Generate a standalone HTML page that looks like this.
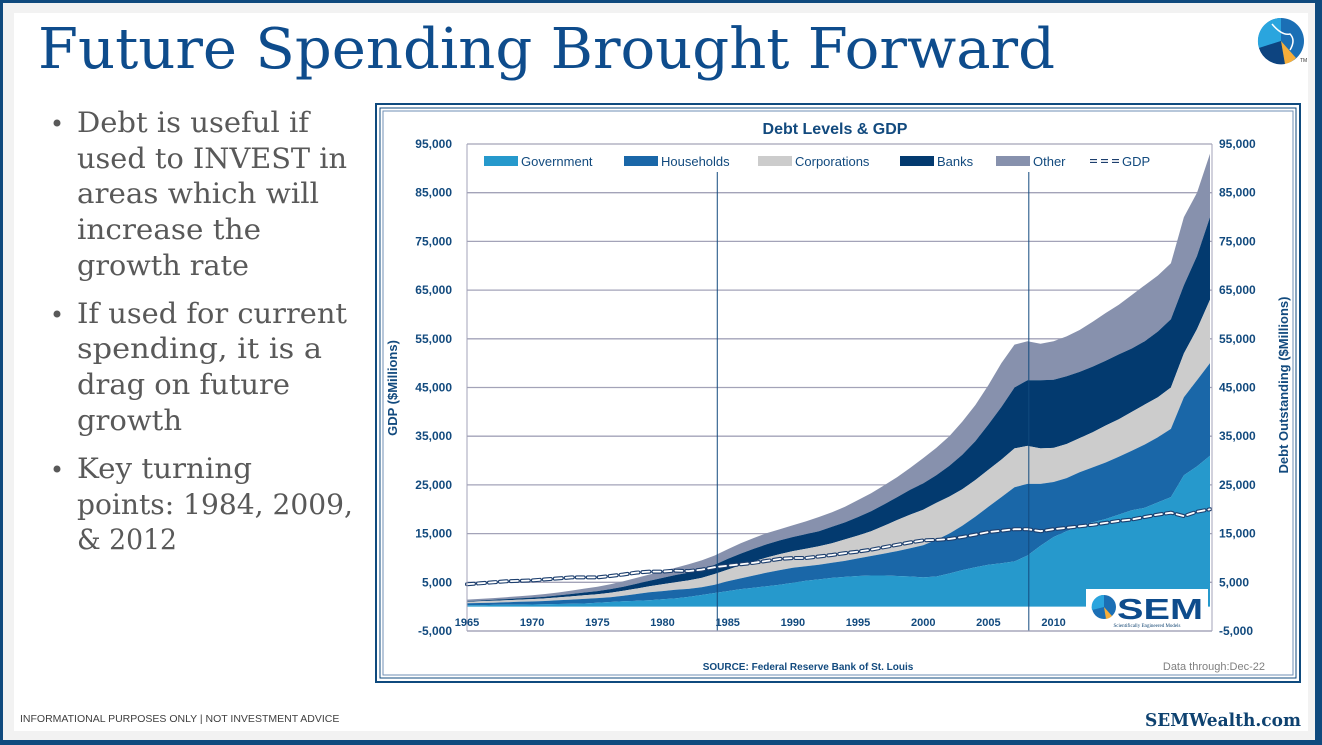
<!DOCTYPE html>
<html><head><meta charset="utf-8"><style>
html,body{margin:0;padding:0;width:1322px;height:745px;overflow:hidden;background:#fff}
svg{display:block}
</style></head><body>
<svg width="1322" height="745" viewBox="0 0 1322 745" xmlns="http://www.w3.org/2000/svg" font-family="Liberation Sans, sans-serif">
<rect x="0" y="0" width="1322" height="745" fill="#0f4a7e"/>
<rect x="3" y="3" width="1312" height="737" fill="#f2f2f2"/>
<rect x="14" y="13" width="1294" height="718" fill="#ffffff"/>

<text x="38" y="68" font-family="DejaVu Serif, serif" font-size="56" fill="#0e4c8c" textLength="1017" lengthAdjust="spacingAndGlyphs">Future Spending Brought Forward</text>

<g>
<circle cx="1281" cy="41" r="23" fill="#1b6fb5"/>
<path d="M1281 41 L1281 18 A23 23 0 0 0 1259 48 Z" fill="#2aa5de"/>
<path d="M1281 41 L1259 48 A23 23 0 0 0 1285 64 Z" fill="#0d4480"/>
<path d="M1281 41 L1285 64 A23 23 0 0 0 1296 58 Z" fill="#f6ae3a"/>
<path d="M1272 24 Q1282 36 1290 34 Q1296 40 1290 50" stroke="#fff" stroke-width="1.5" fill="none"/>
<text x="1300" y="62" font-size="5" fill="#333">TM</text>
</g>

<g font-family="DejaVu Serif, serif" font-size="28" fill="#595959">
<circle cx="57" cy="123" r="3.5" fill="#595959"/>
<text x="77" y="132" textLength="232" lengthAdjust="spacingAndGlyphs">Debt is useful if</text>
<text x="77" y="168" textLength="270" lengthAdjust="spacingAndGlyphs">used to INVEST in</text>
<text x="77" y="203" textLength="242" lengthAdjust="spacingAndGlyphs">areas which will</text>
<text x="77" y="239" textLength="184" lengthAdjust="spacingAndGlyphs">increase the</text>
<text x="77" y="275" textLength="172" lengthAdjust="spacingAndGlyphs">growth rate</text>
<circle cx="57" cy="314" r="3.5" fill="#595959"/>
<text x="77" y="323" textLength="270" lengthAdjust="spacingAndGlyphs">If used for current</text>
<text x="77" y="358" textLength="245" lengthAdjust="spacingAndGlyphs">spending, it is a</text>
<text x="77" y="394" textLength="213" lengthAdjust="spacingAndGlyphs">drag on future</text>
<text x="77" y="430" textLength="105" lengthAdjust="spacingAndGlyphs">growth</text>
<circle cx="57" cy="469" r="3.5" fill="#595959"/>
<text x="77" y="478" textLength="175" lengthAdjust="spacingAndGlyphs">Key turning</text>
<text x="77" y="514" textLength="276" lengthAdjust="spacingAndGlyphs">points: 1984, 2009,</text>
<text x="77" y="549" textLength="100" lengthAdjust="spacingAndGlyphs">&amp; 2012</text>
</g>

<text x="20" y="722" font-size="10.5" fill="#404040">INFORMATIONAL PURPOSES ONLY | NOT INVESTMENT ADVICE</text>
<text x="1301" y="726" text-anchor="end" font-family="DejaVu Serif, serif" font-weight="bold" font-size="18" fill="#0e4270" textLength="156" lengthAdjust="spacingAndGlyphs">SEMWealth.com</text>

<g>
<rect x="376" y="104" width="924" height="578" fill="#fff" stroke="#0f4a7e" stroke-width="2"/>
<rect x="380" y="108" width="916" height="570" fill="none" stroke="#0f4a7e" stroke-width="1"/>
<rect x="383" y="111" width="910" height="564" fill="none" stroke="#6f8fb5" stroke-width="1"/>
</g>
<text x="835" y="134" text-anchor="middle" font-size="16" font-weight="bold" fill="#124a7e">Debt Levels &amp; GDP</text>

<g id="plot"></g>
<g id="axes" font-size="12" font-weight="bold" fill="#124a7e"></g>

<text transform="translate(397,388) rotate(-90)" text-anchor="middle" font-size="13" font-weight="bold" fill="#124a7e">GDP ($Millions)</text>
<text transform="translate(1288,385) rotate(-90)" text-anchor="middle" font-size="13" font-weight="bold" fill="#124a7e">Debt Outstanding ($Millions)</text>

<g id="legend" font-size="13" fill="#124a7e"></g>

<g>
<rect x="1086" y="589" width="122" height="41" fill="#fff"/>
<circle cx="1104" cy="607" r="12" fill="#1b6fb5"/>
<path d="M1104 607 L1104 595 A12 12 0 0 0 1092 610 Z" fill="#2aa5de"/>
<path d="M1104 607 L1106 619 A12 12 0 0 0 1112 616 Z" fill="#f6ae3a"/>
<text x="1117" y="619" font-size="29" font-weight="bold" fill="#0e4c8c" textLength="86" lengthAdjust="spacingAndGlyphs">SEM</text>
<text x="1147" y="627" text-anchor="middle" font-size="5" font-family="Liberation Serif, serif" fill="#0e4270">Scientifically Engineered Models</text>
</g>

<text x="808" y="670" text-anchor="middle" font-size="10" font-weight="bold" fill="#124a7e">SOURCE: Federal Reserve Bank of St. Louis</text>
<text x="1265" y="670" text-anchor="end" font-size="11" fill="#7f7f7f">Data through:Dec-22</text>
</svg>
<script>
// ---- chart data (values in $ thousands of millions, stacked tops) ----
const years = [];
for (let y = 1965; y <= 2022; y++) years.push(y);
const govTop = [0.3,0.3,0.35,0.4,0.4,0.45,0.5,0.55,0.6,0.65,0.8,0.95,1.1,1.2,1.3,1.5,1.7,2.0,2.4,2.8,3.2,3.6,3.9,4.2,4.5,4.9,5.3,5.6,5.9,6.1,6.3,6.4,6.4,6.3,6.2,6.0,6.2,6.8,7.5,8.1,8.6,8.9,9.3,10.5,12.5,14.3,15.5,16.5,17.3,18.0,18.9,19.8,20.3,21.4,22.5,27,28.8,31];
const householdsTop = [0.7,0.75,0.8,0.9,1.0,1.05,1.15,1.3,1.45,1.6,1.75,1.95,2.25,2.6,2.95,3.2,3.45,3.65,4.0,4.5,5.2,5.8,6.4,7.0,7.5,8.0,8.3,8.6,9.0,9.4,9.9,10.4,10.9,11.4,12.0,12.6,13.7,15.0,16.6,18.5,20.5,22.5,24.5,25.2,25.2,25.6,26.4,27.6,28.6,29.6,30.8,32,33.3,34.8,36.5,43,46.5,50];
const corporationsTop = [1.0,1.1,1.2,1.3,1.45,1.55,1.7,1.9,2.1,2.35,2.55,2.85,3.25,3.7,4.2,4.6,5.0,5.4,5.9,6.7,7.6,8.5,9.3,10.1,10.8,11.4,11.9,12.4,13.0,13.8,14.6,15.5,16.6,17.8,18.9,19.9,21.3,22.6,24.1,26.0,28.1,30.2,32.5,33.0,32.5,32.6,33.4,34.6,35.8,37.2,38.5,40,41.5,43,45,52,57,63];
const banksTop = [1.15,1.25,1.4,1.55,1.7,1.85,2.05,2.3,2.6,2.9,3.2,3.6,4.1,4.7,5.3,5.9,6.5,7.0,7.7,8.6,9.8,10.9,11.9,12.8,13.6,14.3,14.9,15.5,16.4,17.3,18.4,19.6,21.0,22.5,24.0,25.3,27.0,28.9,31.2,34.0,37.4,41.0,45.0,46.5,46.5,46.6,47.3,48.2,49.3,50.5,51.8,53,54.5,56.5,59,66,72,80];
const otherTop = [1.45,1.6,1.75,1.95,2.15,2.35,2.6,2.9,3.3,3.7,4.1,4.6,5.2,5.9,6.6,7.3,8.0,8.7,9.5,10.5,11.8,13.0,14.1,15.1,15.9,16.7,17.5,18.4,19.4,20.5,21.9,23.3,24.9,26.6,28.5,30.5,32.6,35.0,38.0,41.4,45.5,50.0,53.8,54.5,54.0,54.5,55.5,56.8,58.5,60.3,62.0,64,66,68,70.5,80,85,93];
const gdp = [4.6,4.8,5.0,5.2,5.3,5.4,5.6,5.8,6.0,6.0,6.0,6.3,6.6,7.0,7.2,7.2,7.4,7.3,7.6,8.1,8.4,8.7,9.0,9.4,9.8,10.0,10.0,10.3,10.6,11.0,11.3,11.7,12.2,12.7,13.2,13.6,13.7,13.9,14.3,14.8,15.3,15.6,15.9,15.9,15.5,15.9,16.2,16.5,16.8,17.2,17.6,17.9,18.4,18.9,19.3,18.6,19.5,20.0];
const yTicks = [-5000,5000,15000,25000,35000,45000,55000,65000,75000,85000,95000];
const xTicks = [1965,1970,1975,1980,1985,1990,1995,2000,2005,2010];
const markerYears = [1984.2, 2008.1];
const seriesNames = ["Government","Households","Corporations","Banks","Other"];

const NS = "http://www.w3.org/2000/svg";
const X0 = 467, X1 = 1210, Y0 = 631, Y1 = 144;
const xs = y => X0 + (y - 1965) / (2022 - 1965) * (X1 - X0);
const ys = v => Y0 - (v * 1000 + 5000) / 100000 * (Y0 - Y1);
const colors = ["#2699cc","#1a67a8","#cccccc","#033a6f","#8791ad"];
function mk(tag, attrs, parent){ const e=document.createElementNS(NS,tag); for(const k in attrs) e.setAttribute(k,attrs[k]); parent.appendChild(e); return e; }
const plot = document.getElementById('plot'), axes = document.getElementById('axes'), legend = document.getElementById('legend');

yTicks.forEach(t => {
  const l = mk('line',{x1:X0,x2:X1+2,y1:ys(t/1000),y2:ys(t/1000),stroke:'#a3a3b8','stroke-width':1.3},plot);
  
  
});
const tops = [govTop, householdsTop, corporationsTop, banksTop, otherTop];
for (let s = tops.length-1; s >= 0; s--) {
  const top = tops[s], bot = s ? tops[s-1] : null;
  let d = '';
  years.forEach((y,i) => { d += (i?'L':'M') + xs(y).toFixed(1) + ' ' + ys(top[i]).toFixed(1); });
  for (let i = years.length-1; i >= 0; i--) d += 'L' + xs(years[i]).toFixed(1) + ' ' + ys(bot ? bot[i] : 0).toFixed(1);
  const p = mk('path',{d:d+'Z',fill:colors[s]},plot);
  
  
}
let gd = '';
years.forEach((y,i) => { gd += (i?'L':'M') + xs(y).toFixed(1) + ' ' + ys(gdp[i]).toFixed(1); });
const gl = mk('path',{d:gd,fill:'none',stroke:'#1d3f6e','stroke-width':4,'stroke-dasharray':'7 4','stroke-linecap':'round'},plot);


const gl2 = mk('path',{d:gd,fill:'none',stroke:'#ffffff','stroke-width':1.8,'stroke-dasharray':'7 4','stroke-linecap':'round'},plot);


markerYears.forEach(m => {
  const l = mk('line',{x1:xs(m),x2:xs(m),y1:172,y2:Y0,stroke:'#124a7e','stroke-width':1},plot);
  
  
});
mk('line',{x1:X0,x2:X1+2,y1:Y0,y2:Y0,stroke:'#a3a3b8','stroke-width':1.3},plot);
mk('line',{x1:X0,x2:X0,y1:Y1,y2:Y0,stroke:'#a3a3b8','stroke-width':1},plot);
mk('line',{x1:X1+2,x2:X1+2,y1:Y1,y2:Y0,stroke:'#a3a3b8','stroke-width':1},plot);
yTicks.forEach(t => {
  const s = t.toLocaleString('en-US');
  const a = mk('text',{x:452,y:ys(t/1000)+4,'text-anchor':'end'},axes); a.textContent = s;
  
  
  const b = mk('text',{x:1219,y:ys(t/1000)+4},axes); b.textContent = s;
  
  
});
xTicks.forEach(t => {
  const a = mk('text',{x:xs(t),y:626,'text-anchor':'middle','font-size':11},axes); a.textContent = t;
  
  
});
const legX = [484,624,758,900,996];
seriesNames.forEach((n,i) => {
  const g = mk('g',{},legend);
  
  
  mk('rect',{x:legX[i],y:156,width:34,height:10,fill:colors[i]},g);
  const t = mk('text',{x:legX[i]+37,y:166},g); t.textContent = n;
});
const gg = mk('g',{},legend);


mk('line',{x1:1090,x2:1120,y1:161,y2:161,stroke:'#1d3f6e','stroke-width':4,'stroke-dasharray':'7 4'},gg);
mk('line',{x1:1090,x2:1120,y1:161,y2:161,stroke:'#fff','stroke-width':1.8,'stroke-dasharray':'7 4'},gg);
const gt = mk('text',{x:1122,y:166},gg); gt.textContent = 'GDP';
</script>
</body></html>
